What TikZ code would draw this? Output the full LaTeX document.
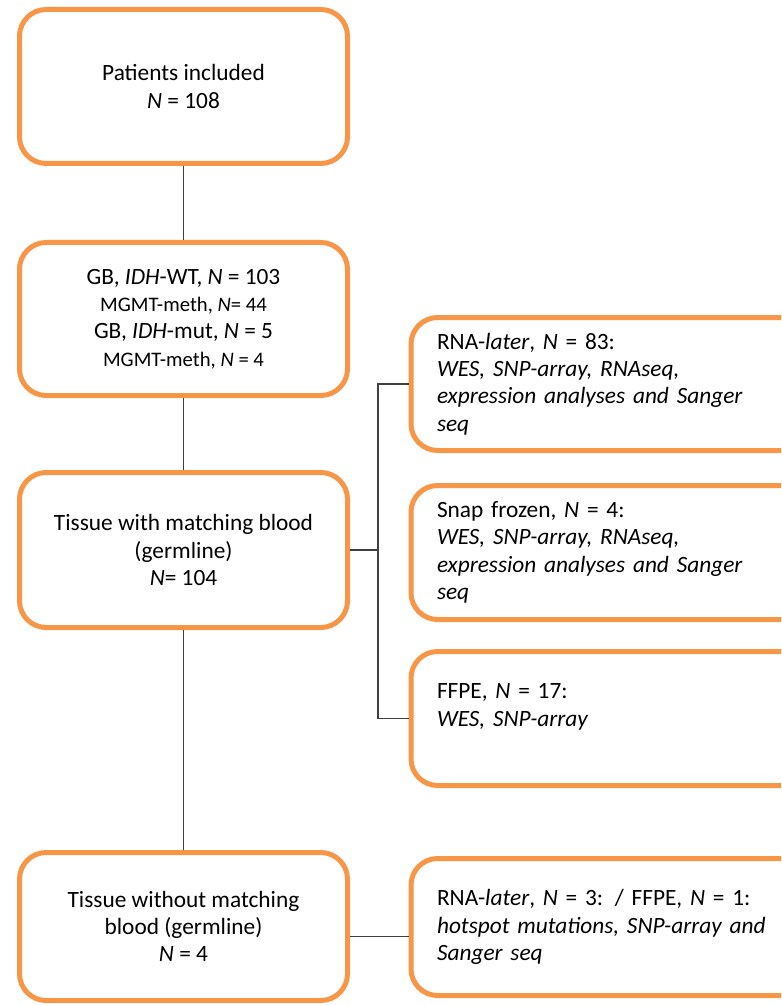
\documentclass[tikz,border=0pt]{standalone}
\usepackage{fontspec}
\setmainfont{Carlito}
\usetikzlibrary{calc}
\definecolor{boxorange}{RGB}{247,150,70}
\newcommand{\smallline}[1]{{\fontsize{15.5}{20}\selectfont #1}}
\tikzset{
    box/.style={draw=boxorange, line width=3.75pt, rounded corners=20pt, fill=white,
        inner sep=0pt, font=\fontsize{17.5}{20.5}\selectfont},
    leftbox/.style={box, minimum width=246pt, align=center},
    rightbox/.style={box, anchor=west, text width=260pt, inner xsep=19.5pt, align=left},
    link/.style={draw=black!75, line width=0.8pt}
}
\begin{document}
\begin{tikzpicture}[x=0.75pt, y=-0.75pt]
    \useasboundingbox (0,0) rectangle (781,1005);
    \clip (0,0) rectangle (781,1005);
    \node[leftbox, minimum height=115.5pt] (P) at (183.5,86.5) {Patients included\\\textit{N} = 108};
    \node[leftbox, minimum height=114.75pt] (G) at (183.5,319) {GB, \textit{IDH}-WT, \textit{N} = 103\\
        \smallline{MGMT-meth, \textit{N}= 44}\\
        GB, \textit{IDH}-mut, \textit{N} = 5\\
        \smallline{MGMT-meth, \textit{N} = 4}};
    \node[leftbox, minimum height=116.25pt] (T) at (183.5,550) {Tissue with matching blood\\(germline)\\\textit{N}= 104};
    \node[leftbox, minimum height=111pt] (W) at (183.5,926.5) {Tissue without matching\\blood (germline)\\\textit{N} = 4};
    \node[rightbox, minimum height=99.75pt] (R1) at (408.5,384) {RNA-\textit{later}, \textit{N} = 83:\\
        \textit{WES, SNP-array, RNAseq,}\\\textit{expression analyses and Sanger}\\\textit{seq}};
    \node[rightbox, minimum height=100.5pt] (R2) at (408.5,552.5) {Snap frozen, \textit{N} = 4:\\
        \textit{WES, SNP-array, RNAseq,}\\\textit{expression analyses and Sanger}\\\textit{seq}};
    \node[rightbox, minimum height=100.5pt] (R3) at (408.5,718.5) {FFPE, \textit{N} = 17:\\\textit{WES, SNP-array}\\~};
    \node[rightbox, minimum height=102.75pt] (R4) at (408.5,927) {RNA-\textit{later}, \textit{N} = 3: / FFPE, \textit{N} = 1:\\
        \textit{hotspot mutations, SNP-array and}\\\textit{Sanger seq}};
    \coordinate (split) at (378,552);
    \draw[link] (P) -- (G);
    \draw[link] (G) -- (T);
    \draw[link] (T) -- (W);
    \draw[link] (T.east) -- (T.east -| split);
    \draw[link] (R1.west) -| (split) |- (R3.west);
    \draw[link] ([yshift=-7.5pt]W.east) -- ([yshift=-7.5pt]W.east -| R4.west);
\end{tikzpicture}
\end{document}
